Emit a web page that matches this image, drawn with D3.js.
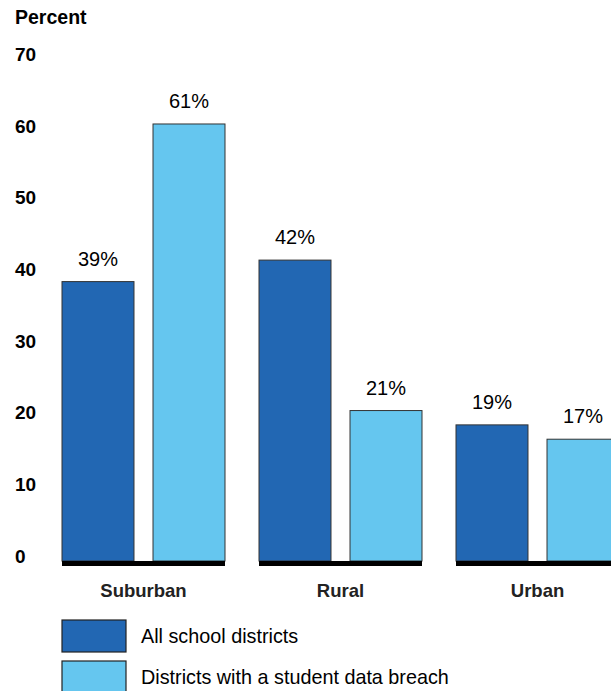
<!DOCTYPE html>
<html>
<head>
<meta charset="utf-8">
<script src="https://cdn.jsdelivr.net/npm/d3@7"></script>
<style>
  body { margin: 0; background: #fff; }
  text { font-family: "Liberation Sans", Arial, sans-serif; fill: #000; }
</style>
</head>
<body>
<div id="chart"></div>
<script>
// chart data
var categories = ["Suburban", "Rural", "Urban"];
var seriesNames = ["All school districts", "Districts with a student data breach"];
var allDistricts = [39, 42, 19];
var breachDistricts = [61, 21, 17];
var yTicks = [0, 10, 20, 30, 40, 50, 60, 70];

var colors = ["#2267b3", "#65c6ef"];
var width = 611, height = 691;

var svg = d3.select("#chart")
    .append("svg")
    .attr("width", width)
    .attr("height", height);

// group scale and inner scale for the two series
var x0 = d3.scaleBand()
    .domain(categories)
    .range([62, 619])
    .paddingInner(0.1726)
    .paddingOuter(0);

var x1 = d3.scaleBand()
    .domain([0, 1])
    .range([0, x0.bandwidth()])
    .paddingInner(0.209)
    .paddingOuter(0);

var y = d3.scaleLinear()
    .domain([0, 70])
    .range([561, 59.5]);

// axis title
svg.append("text")
    .attr("x", 15)
    .attr("y", 24)
    .style("font-size", "19.5px")
    .style("font-weight", "bold")
    .text("Percent");

// y axis labels only, no line
var yAxis = svg.append("g")
    .attr("transform", "translate(15,-5)")
    .call(d3.axisLeft(y).tickValues(yTicks).tickSize(0).tickPadding(0));
yAxis.select(".domain").remove();
yAxis.selectAll("text")
    .attr("text-anchor", "start")
    .attr("x", 0)
    .style("font-family", "Liberation Sans, Arial, sans-serif")
    .style("font-size", "19px")
    .style("font-weight", "bold")
    .style("fill", "#000");

// build rows from the arrays
var rows = categories.map(function(c, i) {
  return { cat: c, values: [allDistricts[i], breachDistricts[i]] };
});

var groups = svg.selectAll(".group")
    .data(rows)
    .enter().append("g")
    .attr("class", "group")
    .attr("transform", d => "translate(" + x0(d.cat) + ",0)");

groups.selectAll("rect.bar")
    .data(d => d.values)
    .enter().append("rect")
    .attr("class", "bar")
    .attr("x", (d, i) => x1(i))
    .attr("y", d => y(d))
    .attr("width", x1.bandwidth())
    .attr("height", d => y(0) - y(d))
    .attr("fill", (d, i) => colors[i])
    .attr("stroke", "#333")
    .attr("stroke-width", 1);

groups.selectAll("text.val")
    .data(d => d.values)
    .enter().append("text")
    .attr("class", "val")
    .attr("x", (d, i) => x1(i) + x1.bandwidth() / 2)
    .attr("y", d => y(d) - 16)
    .attr("text-anchor", "middle")
    .style("font-size", "20px")
    .text(d => d + "%");

// thick baseline under each group
groups.append("rect")
    .attr("x", 0)
    .attr("y", y(0))
    .attr("width", x0.bandwidth())
    .attr("height", 5)
    .attr("fill", "#000");

groups.append("text")
    .attr("x", x0.bandwidth() / 2)
    .attr("y", 597)
    .attr("text-anchor", "middle")
    .style("font-size", "18.5px")
    .style("font-weight", "bold")
    .style("fill", "#222")
    .text(d => d.cat);

// legend
var legend = svg.selectAll(".legend")
    .data(seriesNames)
    .enter().append("g")
    .attr("class", "legend")
    .attr("transform", (d, i) => "translate(62," + (620 + i * 41) + ")");

legend.append("rect")
    .attr("width", 64)
    .attr("height", 32)
    .attr("fill", (d, i) => colors[i])
    .attr("stroke", "#222")
    .attr("stroke-width", 1.2);

legend.append("text")
    .attr("x", 79)
    .attr("y", 16)
    .attr("dy", "0.35em")
    .style("font-size", "19.8px")
    .text(d => d);
</script>
</body>
</html>
